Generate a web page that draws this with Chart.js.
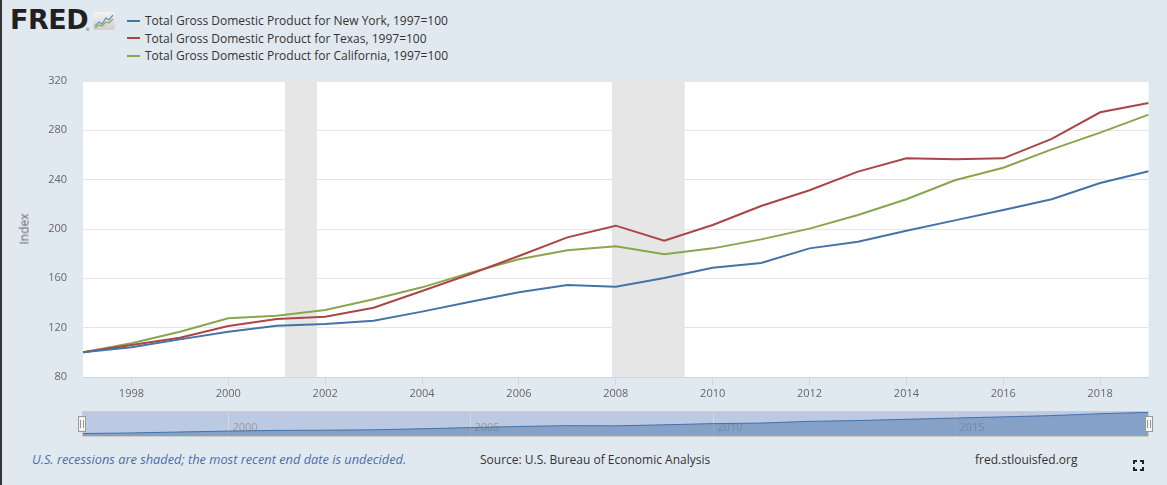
<!DOCTYPE html>
<html>
<head>
<meta charset="utf-8">
<script src="https://cdn.jsdelivr.net/npm/chart.js@4.4.1/dist/chart.umd.min.js"></script>
<style>
  html, body { margin: 0; padding: 0; }
  body {
    width: 1167px; height: 485px; overflow: hidden; position: relative;
    background: #e1e9f0; font-family: "Open Sans", sans-serif;
  }
  #edge { position: absolute; left: 0; top: 0; width: 2px; height: 485px; background: #353535; }
  #logo {
    position: absolute; left: 10px; top: 4px; font-family: "DejaVu Sans", sans-serif;
    font-weight: bold; font-size: 27px; letter-spacing: -0.5px; color: #231f20;
  }
  #reg { position: absolute; left: 86px; top: 27px; font-size: 4px; color: #231f20; }
  #icon { position: absolute; left: 93px; top: 12px; width: 22px; height: 18px; }
  #legend { position: absolute; left: 127px; top: 12px; font-size: 12px; color: #333; }
  .item { height: 17.5px; line-height: 17.5px; white-space: nowrap; }
  .item i { display: inline-block; width: 13px; height: 2px; margin-right: 5px; vertical-align: middle; position: relative; top: -1px; }
  #main { position: absolute; left: 0; top: 0; width: 1167px; height: 405px; }
  #nav { position: absolute; left: 70px; top: 405px; width: 1090px; height: 37px; }
  #yTitle {
    position: absolute; left: 24px; top: 229px; font-size: 12px; color: #666;
    transform: translate(-50%, -50%) rotate(-90deg);
  }
  .foot { position: absolute; top: 451px; font-size: 12px; color: #333; white-space: nowrap; }
  #note { left: 32px; top: 450px; font-size: 12.8px; font-style: italic; color: #4a6ea9; }
  #src { left: 480px; }
  #site { left: 975px; }
  #full { position: absolute; left: 1133px; top: 460px; }
</style>
</head>
<body>
<div id="edge"></div>
<div id="logo">FRED</div>
<div id="reg">®</div>
<svg id="icon" viewBox="0 0 22 18">
  <defs>
    <linearGradient id="g" x1="0" y1="0" x2="0" y2="1">
      <stop offset="0" stop-color="#f4f4f4"/><stop offset="1" stop-color="#cfcfcf"/>
    </linearGradient>
  </defs>
  <rect x="0" y="0" width="22" height="18" rx="2" fill="url(#g)"/>
  <polyline points="2,14 6,10 9,12 13,6 16,8 20,3" fill="none" stroke="#6d8fc4" stroke-width="1.3"/>
  <polyline points="2,16 6,13 9,14 13,10 16,11 20,7" fill="none" stroke="#8ab04a" stroke-width="1.3"/>
</svg>
<div id="legend"></div>
<div id="main"><canvas id="mainChart"></canvas></div>
<div id="nav"><canvas id="navChart"></canvas></div>
<div id="yTitle">Index</div>
<div class="foot" id="note">U.S. recessions are shaded; the most recent end date is undecided.</div>
<div class="foot" id="src">Source: U.S. Bureau of Economic Analysis</div>
<div class="foot" id="site">fred.stlouisfed.org</div>
<svg id="full" width="11" height="11" viewBox="0 0 11 11" fill="none" stroke="#222" stroke-width="2">
  <path d="M1 4V1H4M7 1H10V4M10 7V10H7M4 10H1V7"/>
</svg>

<script>
/* ===============================
   Data (annual, 1997=100)
================================ */
const years = [1997, 1998, 1999, 2000, 2001, 2002, 2003, 2004, 2005, 2006, 2007, 2008,
               2009, 2010, 2011, 2012, 2013, 2014, 2015, 2016, 2017, 2018, 2019];

const newYork = [100, 104.1, 110.5, 116.7, 121.6, 123.0, 125.7, 133.0, 141.0, 148.7, 154.6, 153.2,
                 160.3, 168.6, 172.4, 184.3, 189.7, 198.6, 207.0, 215.4, 224.1, 237.3, 246.8];
const texas = [100, 106.0, 111.9, 121.4, 127.0, 128.9, 136.2, 149.7, 163.5, 178.1, 193.2, 202.7,
               190.5, 203.2, 218.6, 231.4, 246.5, 257.3, 256.5, 257.3, 273.0, 294.6, 302.2];
const california = [100, 107.3, 116.7, 127.6, 129.7, 134.3, 143.0, 152.7, 164.6, 175.4, 182.7, 186.0,
                    179.5, 184.3, 191.6, 200.3, 211.4, 224.1, 239.5, 249.7, 264.6, 278.1, 292.7];

const seriesNames = [
  "Total Gross Domestic Product for New York, 1997=100",
  "Total Gross Domestic Product for Texas, 1997=100",
  "Total Gross Domestic Product for California, 1997=100"
];
const seriesColors = ["#4572a7", "#aa4643", "#89a54e"];

const xTicks = [1998, 2000, 2002, 2004, 2006, 2008, 2010, 2012, 2014, 2016, 2018];
const yTicks = [80, 120, 160, 200, 240, 280, 320];
const navTicks = [2000, 2005, 2010, 2015];

const recessionStarts = [2001.17, 2007.92];
const recessionEnds = [2001.83, 2009.42];

Chart.defaults.font.family = "'Open Sans', sans-serif";
Chart.defaults.animation = false;

const toPoints = (vals) => years.map((yr, i) => ({ x: yr, y: vals[i] }));

/* ===============================
   Legend (HTML)
================================ */
const legendEl = document.getElementById("legend");
seriesNames.forEach((name, i) => {
  const row = document.createElement("div");
  row.className = "item";
  row.innerHTML = `<i style="background:${seriesColors[i]}"></i>${name}`;
  legendEl.appendChild(row);
});

/* ===============================
   Plugins
================================ */
const plotBackground = {
  id: "plotBackground",
  beforeDraw(chart) {
    const { ctx, chartArea: a } = chart;
    ctx.save();
    ctx.fillStyle = "#ffffff";
    ctx.fillRect(a.left, a.top, a.right - a.left, a.bottom - a.top);
    ctx.restore();
  }
};

const recessionShading = {
  id: "recessionShading",
  beforeDatasetsDraw(chart) {
    const { ctx, chartArea: a, scales } = chart;
    ctx.save();
    ctx.fillStyle = "#e6e6e6";
    recessionStarts.forEach((s, i) => {
      const x0 = scales.x.getPixelForValue(s);
      const x1 = scales.x.getPixelForValue(recessionEnds[i]);
      ctx.fillRect(x0, a.top, x1 - x0, a.bottom - a.top);
    });
    ctx.restore();
  }
};

/* ===============================
   Main Chart
================================ */
new Chart(document.getElementById("mainChart"), {
  type: "line",
  data: {
    datasets: [newYork, texas, california].map((vals, i) => ({
      label: seriesNames[i],
      data: toPoints(vals),
      borderColor: seriesColors[i],
      borderWidth: 2,
      pointRadius: 0,
      tension: 0,
      fill: false
    }))
  },
  options: {
    responsive: true,
    maintainAspectRatio: false,
    layout: { padding: { top: 81, right: 18.4, bottom: 0, left: 0 } },
    plugins: { legend: { display: false }, tooltip: { enabled: false } },
    scales: {
      x: {
        type: "linear",
        min: 1997,
        max: 2019,
        afterBuildTicks: (s) => { s.ticks = xTicks.map(v => ({ value: v })); },
        afterFit: (s) => { s.height = 28; },
        grid: { drawOnChartArea: false, drawTicks: true, tickLength: 8, color: "#ccd6eb" },
        border: { color: "#ccd6eb" },
        ticks: {
          callback: (v) => String(v),
          color: "#666",
          font: { size: 11 },
          padding: 2,
          maxRotation: 0,
          autoSkip: false
        }
      },
      y: {
        min: 80,
        max: 320,
        afterBuildTicks: (s) => { s.ticks = yTicks.map(v => ({ value: v })); },
        afterFit: (s) => { s.width = 83; },
        grid: { color: "#e6e6e6", drawTicks: false },
        border: { display: false },
        ticks: { color: "#666", font: { size: 11 }, padding: 16 }
      }
    }
  },
  plugins: [plotBackground, recessionShading]
});

/* ===============================
   Navigator
================================ */
const navDecor = {
  id: "navDecor",
  beforeDraw(chart) {
    const { ctx, chartArea: a } = chart;
    ctx.save();
    ctx.fillStyle = "#bcc9e3";
    ctx.fillRect(a.left, a.top, a.right - a.left, a.bottom - a.top);
    ctx.restore();
  },
  beforeDatasetsDraw(chart) {
    const { ctx, chartArea: a, scales } = chart;
    ctx.save();
    ctx.strokeStyle = "rgba(255,255,255,0.3)";
    ctx.lineWidth = 1;
    ctx.fillStyle = "#9a9a9a";
    ctx.font = "11px 'Open Sans', sans-serif";
    ctx.textBaseline = "middle";
    navTicks.forEach(v => {
      const x = Math.round(scales.x.getPixelForValue(v)) + 0.5;
      ctx.beginPath();
      ctx.moveTo(x, a.top);
      ctx.lineTo(x, a.bottom);
      ctx.stroke();
      ctx.fillText(String(v), x + 4, a.bottom - 9);
    });
    ctx.restore();
  },
  afterDraw(chart) {
    const { ctx, chartArea: a, scales } = chart;
    ctx.save();
    ctx.strokeStyle = "#cccccc";
    ctx.lineWidth = 1;
    ctx.strokeRect(a.left + 0.5, a.top + 0.5, a.right - a.left - 1, a.bottom - a.top - 1);
    const mid = (a.top + a.bottom) / 2;
    [scales.x.min, scales.x.max].forEach(v => {
      const x = Math.round(scales.x.getPixelForValue(v));
      ctx.fillStyle = "#f2f2f2";
      ctx.strokeStyle = "#999999";
      ctx.fillRect(x - 4, mid - 8, 8, 16);
      ctx.strokeRect(x - 3.5, mid - 7.5, 7, 15);
      ctx.beginPath();
      ctx.moveTo(x - 1.5, mid - 4); ctx.lineTo(x - 1.5, mid + 4);
      ctx.moveTo(x + 1.5, mid - 4); ctx.lineTo(x + 1.5, mid + 4);
      ctx.stroke();
    });
    ctx.restore();
  }
};

new Chart(document.getElementById("navChart"), {
  type: "line",
  data: {
    datasets: [{
      data: toPoints(newYork),
      borderColor: "#4572a7",
      backgroundColor: "rgba(69,114,167,0.45)",
      borderWidth: 1,
      pointRadius: 0,
      fill: "start",
      tension: 0
    }]
  },
  options: {
    responsive: true,
    maintainAspectRatio: false,
    layout: { padding: { top: 6, right: 11, bottom: 5, left: 12 } },
    plugins: { legend: { display: false }, tooltip: { enabled: false } },
    scales: {
      x: { type: "linear", min: 1997, max: 2019, display: false },
      y: { min: 76, max: 256, display: false }
    }
  },
  plugins: [navDecor]
});
</script>
</body>
</html>
